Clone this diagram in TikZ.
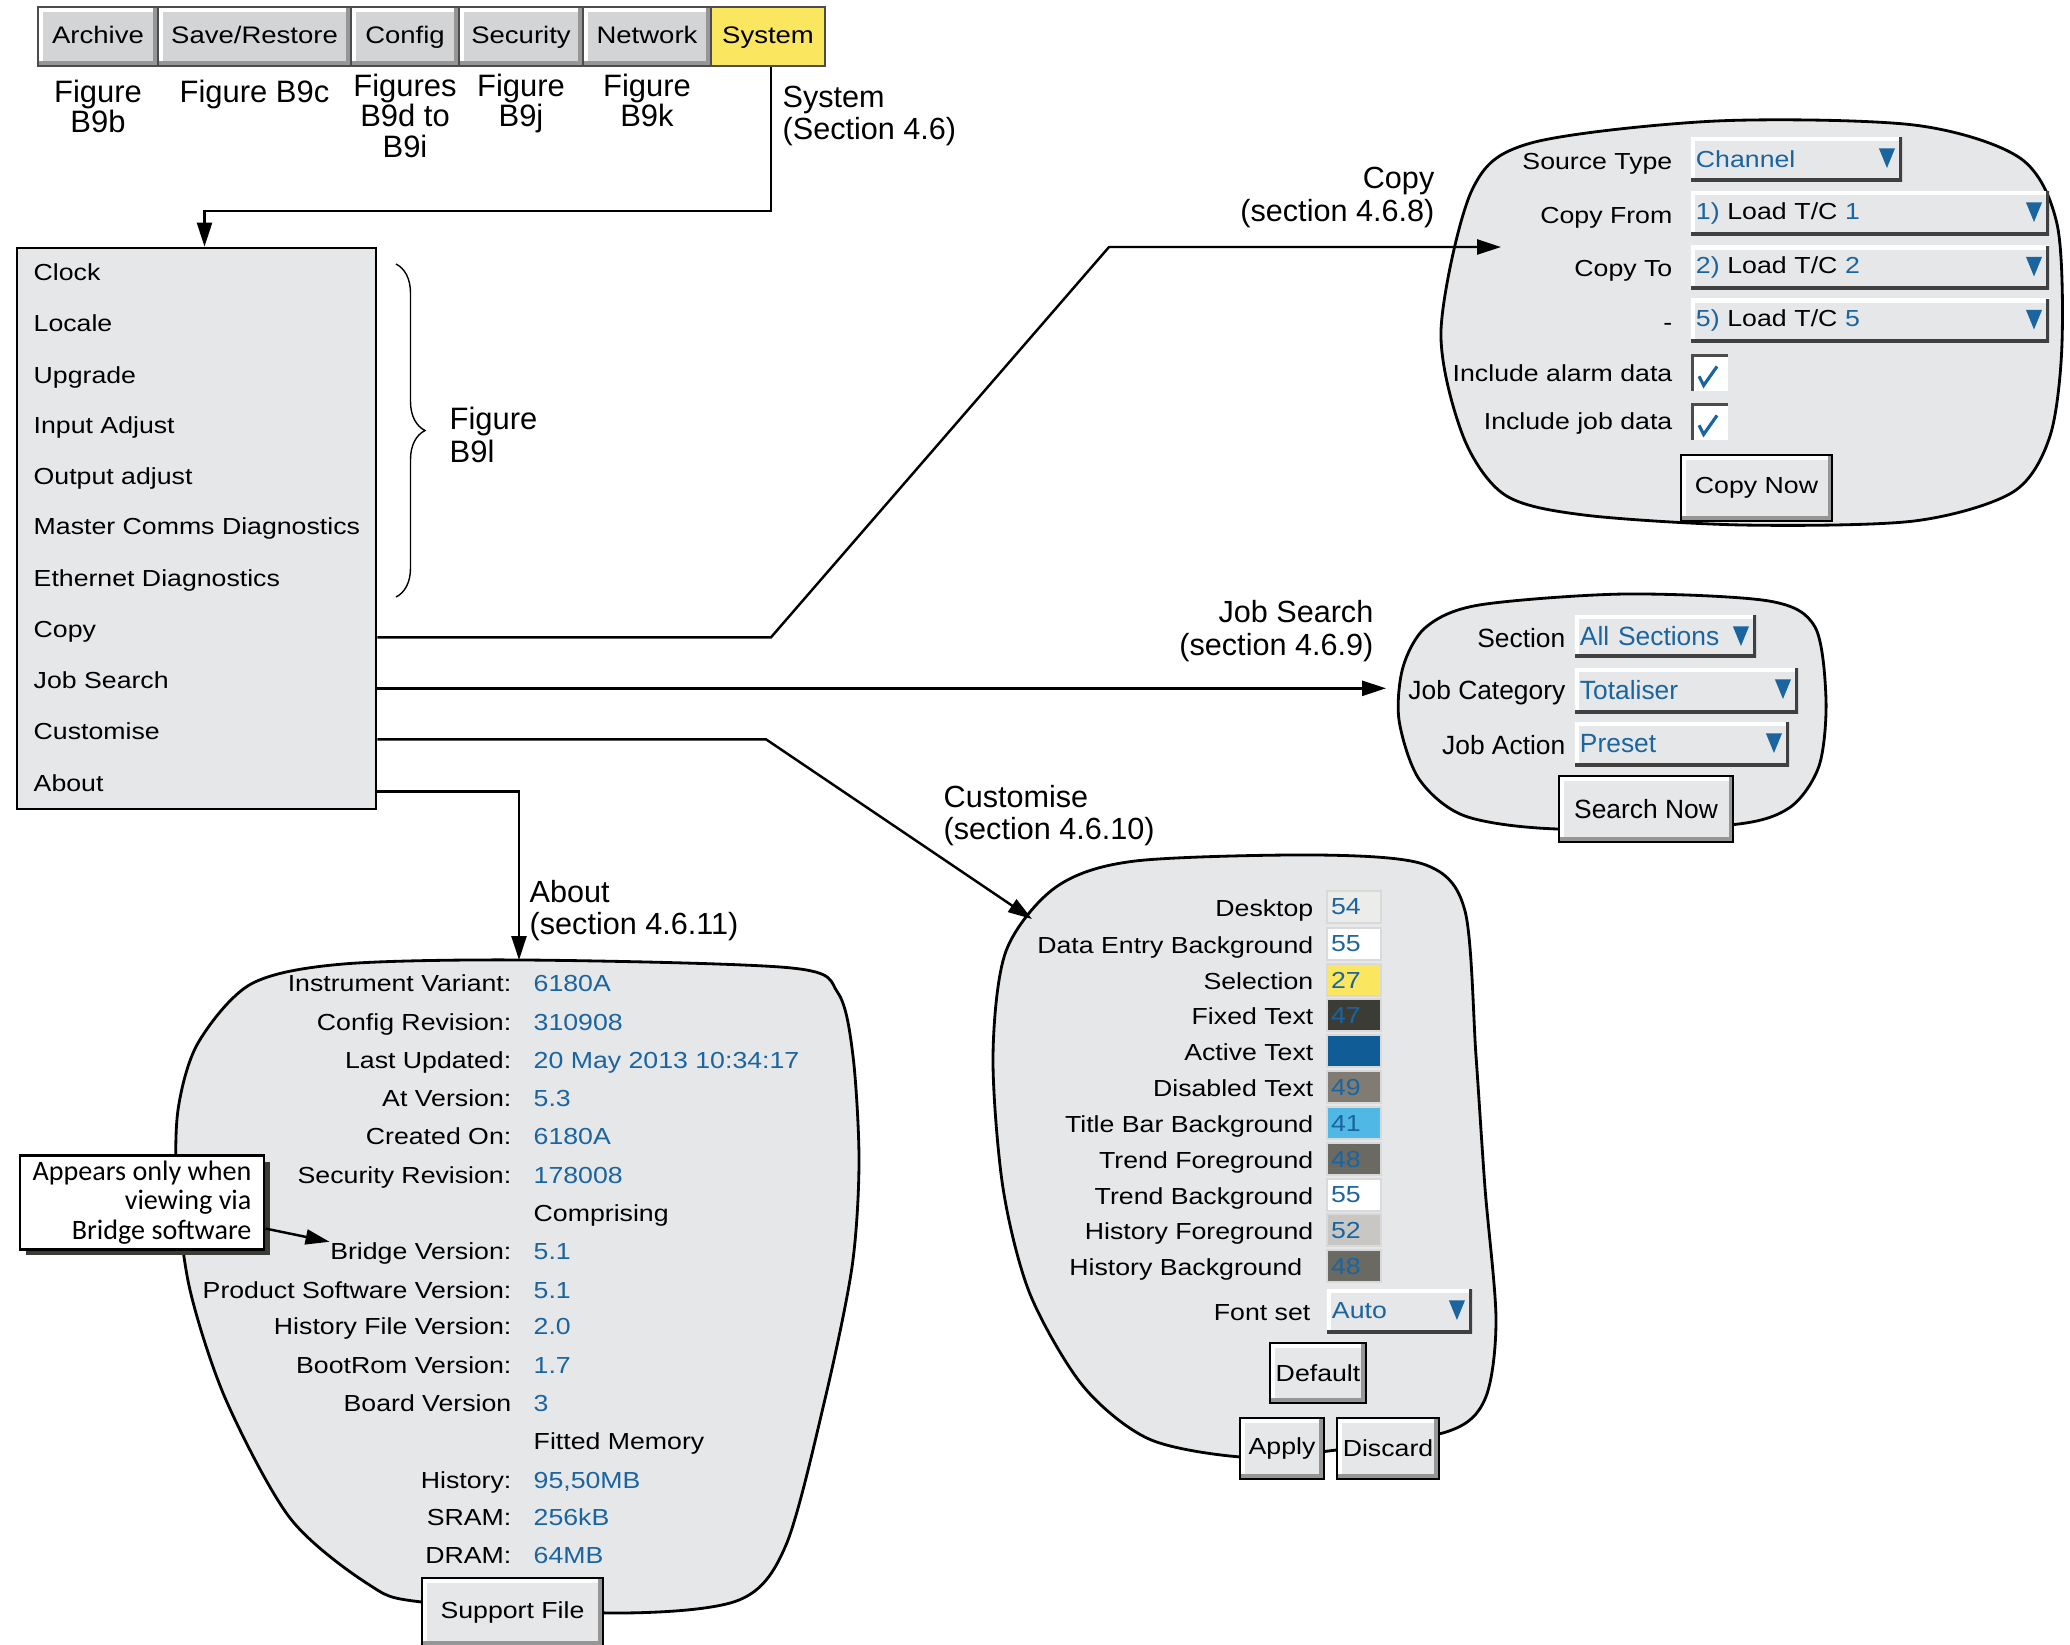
\documentclass[tikz,border=0pt]{standalone}
\usepackage{fontspec}
\setmainfont{Liberation Sans}
\newfontfamily\wideF[FakeStretch=1.15]{Liberation Sans}
\newfontfamily\noteF{Carlito}
\usepackage{xcolor}
\usepackage{tikz}
\usetikzlibrary{arrows.meta, positioning, shadows, decorations.pathreplacing}

\definecolor{panelgray}{RGB}{230,231,232}
\definecolor{tabgray}{RGB}{211,212,214}
\definecolor{bevelgray}{RGB}{150,150,150}
\definecolor{sysyellow}{RGB}{251,231,95}
\definecolor{valblue}{RGB}{26,100,160}
\definecolor{shadowdark}{RGB}{60,60,55}
\definecolor{swdesk}{RGB}{236,236,234}
\definecolor{swfixed}{RGB}{60,60,55}
\definecolor{swactive}{RGB}{16,92,150}
\definecolor{swdisabled}{RGB}{128,124,116}
\definecolor{swtitle}{RGB}{80,184,228}
\definecolor{swtrend}{RGB}{106,105,98}
\definecolor{swhist}{RGB}{200,199,195}

\begin{document}
\begin{tikzpicture}[
    x=0.01cm, y=-0.01cm,
    panel/.style={draw=black, line width=0.8pt, fill=panelgray},
    menubox/.style={rectangle, draw=black, line width=0.7pt, fill=panelgray, inner sep=0},
    bevel/.style={path picture={
        \draw[white, line width=2.6pt] (path picture bounding box.south west) -- (path picture bounding box.north west) -- (path picture bounding box.north east);
        \draw[bevelgray, line width=2.6pt] (path picture bounding box.south west) -- (path picture bounding box.south east) -- (path picture bounding box.north east);}},
    tab/.style={rectangle, draw=black!70, line width=0.5pt, fill=tabgray, bevel, minimum height=0.59cm, inner sep=0, text height=1.35ex, text depth=0.6ex, font=\wideF\fontsize{6.8}{8}\selectfont},
    systab/.style={rectangle, draw=black!70, line width=0.5pt, fill=sysyellow, minimum height=0.59cm, inner sep=0, text height=1.35ex, text depth=0.6ex, font=\wideF\fontsize{6.8}{8}\selectfont},
    figlabel/.style={align=center, inner sep=0, font=\fontsize{8.8}{8.8}\selectfont},
    seclabel/.style={align=left, inner sep=0, font=\fontsize{8.7}{9.3}\selectfont},
    menuitem/.style={anchor=mid west, inner sep=0, font=\wideF\fontsize{6.6}{8}\selectfont},
    lbl/.style={anchor=mid east, inner sep=0, font=\wideF\fontsize{6.6}{8}\selectfont},
    val/.style={anchor=mid west, inner sep=0, text=valblue, font=\wideF\fontsize{6.6}{8}\selectfont},
    jsfont/.style={font=\fontsize{7.5}{9}\selectfont},
    dropbox/.style={rectangle, fill=panelgray, minimum height=0.44cm, inner xsep=0.05cm, inner ysep=0, align=left, text=valblue, font=\wideF\fontsize{6.6}{8}\selectfont, path picture={
        \draw[white, line width=2.4pt] (path picture bounding box.south west) -- (path picture bounding box.north west) -- (path picture bounding box.north east);
        \draw[black!75, line width=1.8pt] (path picture bounding box.south west) -- (path picture bounding box.south east) -- (path picture bounding box.north east);
        \fill[valblue] ([xshift=-2pt, yshift=-3.2pt]path picture bounding box.north east) -- ++(-4.6pt,0pt) -- ++(2.3pt,-5.6pt) -- cycle;}},
    button/.style={rectangle, draw=black, line width=0.5pt, fill=panelgray, bevel, inner sep=0, font=\wideF\fontsize{6.6}{8}\selectfont},
    swatch/.style={rectangle, draw=black!15, line width=0.4pt, minimum height=0.32cm, text width=0.46cm, inner xsep=0.04cm, inner ysep=0, align=left, text=valblue, font=\wideF\fontsize{6.6}{8}\selectfont},
    checkbox/.style={rectangle, fill=white, minimum size=0.37cm, inner sep=0, path picture={
        \draw[black!70, line width=1.6pt] (path picture bounding box.south west) -- (path picture bounding box.north west) -- (path picture bounding box.north east);
        \draw[valblue, line width=0.9pt] ([xshift=2.3pt, yshift=4.2pt]path picture bounding box.south west) -- ([xshift=3.6pt, yshift=1.6pt]path picture bounding box.south west) -- ([xshift=7.4pt, yshift=7pt]path picture bounding box.south west);}},
    notebox/.style={rectangle, draw=black, line width=0.8pt, fill=white, align=right, inner xsep=0.1cm, inner ysep=0.05cm, minimum width=2.44cm, minimum height=0.93cm, font=\noteF\fontsize{8}{8.4}\selectfont, drop shadow={shadow xshift=0.06cm, shadow yshift=-0.06cm, fill=shadowdark, opacity=1}},
    arrow/.style={-{Triangle[length=0.24cm, width=0.15cm]}, line width=0.7pt},
]
\useasboundingbox (0,0) rectangle (2070,1644);

\node[tab, minimum width=1.2cm] (archive) at (98,36.5) {Archive};
\node[tab, minimum width=1.93cm] (saverestore) at (254.5,36.5) {Save/Restore};
\node[tab, minimum width=1.08cm] (config) at (405,36.5) {Config};
\node[tab, minimum width=1.24cm] (security) at (521,36.5) {Security};
\node[tab, minimum width=1.28cm] (network) at (647,36.5) {Network};
\node[systab, minimum width=1.14cm] (system) at (768,36.5) {System};

\node[figlabel, below=0.12cm of archive] (figarchive) {Figure\\B9b};
\node[figlabel, below=0.12cm of saverestore] (figsave) {Figure B9c};
\node[figlabel, below=0.06cm of config] (figconfig) {Figures\\B9d to\\B9i};
\node[figlabel, below=0.06cm of security] (figsecurity) {Figure\\B9j};
\node[figlabel, below=0.06cm of network] (fignetwork) {Figure\\B9k};
\node[seclabel, anchor=west] (syslbl) at (782,116) {System\\(Section 4.6)};

\node[menubox, minimum width=3.59cm, minimum height=5.61cm] (menu) at (196.5,528.5) {};
\node[menuitem] (clock) at (33,271) {Clock};
\node[menuitem] (locale) at (33,322) {Locale};
\node[menuitem] (upgrade) at (33,374) {Upgrade};
\node[menuitem] (inputadj) at (33,424) {Input Adjust};
\node[menuitem] (outputadj) at (33,475) {Output adjust};
\node[menuitem] (mastercomms) at (33,525) {Master Comms Diagnostics};
\node[menuitem] (ethdiag) at (33,577) {Ethernet Diagnostics};
\node[menuitem] (copy) at (33,628) {Copy};
\node[menuitem] (jobsearch) at (33,679) {Job Search};
\node[menuitem] (customise) at (33,730) {Customise};
\node[menuitem] (about) at (33,782) {About};

\draw[decorate, decoration={brace, amplitude=0.29cm}, line width=0.4pt] (396,264) -- (396,597);
\node[figlabel, anchor=west, align=left, font=\fontsize{8.8}{9.4}\selectfont] (figsystem) at (449,435) {Figure\\B9l};

\draw[panel] plot[smooth cycle] coordinates {(1472,190) (1531,143) (1716,121) (1914,125) (2020,158) (2057,224) (2062,343) (2050,436) (2013,492) (1914,521) (1743,525) (1584,515) (1505,495) (1463,436) (1441,330)};
\node[lbl] (srctypelbl) at (1673,160) {Source Type};
\node[dropbox, text width=2.01cm] (srctype) at (1796.5,159) {Channel};
\node[lbl] (copyfromlbl) at (1673,214) {Copy From};
\node[dropbox, text width=3.48cm] (copyfrom) at (1870,213) {1) {\color{black}Load T/C} 1};
\node[lbl] (copytolbl) at (1673,267) {Copy To};
\node[dropbox, text width=3.48cm] (copyto) at (1870,267.5) {2) {\color{black}Load T/C} 2};
\node[lbl] (rangelbl) at (1673,321) {-};
\node[dropbox, text width=3.48cm] (copyrange) at (1870,320.5) {5) {\color{black}Load T/C} 5};
\node[lbl] (alarmlbl) at (1673,372) {Include alarm data};
\node[checkbox] (alarmchk) at (1709.5,372.5) {};
\node[lbl] (jobdatalbl) at (1673,420) {Include job data};
\node[checkbox] (jobdatachk) at (1709.5,421.5) {};
\node[button, minimum width=1.51cm, minimum height=0.66cm] (copynow) at (1756.5,488) {Copy Now};

\draw[panel] plot[smooth cycle] coordinates {(1426,627) (1479,605) (1624,594) (1769,601) (1815,627) (1826,700) (1819,766) (1789,808) (1729,825) (1558,829) (1465,816) (1419,779) (1399,720) (1403,667)};
\node[lbl, jsfont] (sectionlbl) at (1566,638) {Section};
\node[dropbox, jsfont, text width=1.71cm, minimum height=0.42cm] (section) at (1665.5,636) {All Sections};
\node[lbl, jsfont] (jobcatlbl) at (1566,690) {Job Category};
\node[dropbox, jsfont, text width=2.13cm, minimum height=0.45cm] (jobcat) at (1686.5,690.5) {Totaliser};
\node[lbl, jsfont] (jobactlbl) at (1566,745) {Job Action};
\node[dropbox, jsfont, text width=2.04cm] (jobact) at (1682,744) {Preset};
\node[button, jsfont, minimum width=1.74cm, minimum height=0.66cm] (searchnow) at (1646,809) {Search Now};

\draw[panel] plot[smooth cycle] coordinates {(1056,887) (1135,861) (1320,855) (1426,865) (1465,911) (1476,1056) (1485,1188) (1496,1320) (1485,1399) (1446,1432) (1320,1452) (1241,1457) (1149,1439) (1083,1386) (1030,1294) (1003,1188) (993,1056) (1006,951)};
\node[lbl] (desktoplbl) at (1314,907) {Desktop};
\node[swatch, fill=swdesk] (desktop) at (1354,907) {54};
\node[lbl] (dataentrylbl) at (1314,944) {Data Entry Background};
\node[swatch, fill=white] (dataentry) at (1354,944) {55};
\node[lbl] (selectionlbl) at (1314,980) {Selection};
\node[swatch, fill=sysyellow] (selection) at (1354,980) {27};
\node[lbl] (fixedlbl) at (1314,1015) {Fixed Text};
\node[swatch, fill=swfixed] (fixedtext) at (1354,1015) {47};
\node[lbl] (activelbl) at (1314,1051) {Active Text};
\node[swatch, fill=swactive] (activetext) at (1354,1051) {};
\node[lbl] (disabledlbl) at (1314,1087) {Disabled Text};
\node[swatch, fill=swdisabled] (disabledtext) at (1354,1087) {49};
\node[lbl] (titlebarlbl) at (1314,1123) {Title Bar Background};
\node[swatch, fill=swtitle] (titlebar) at (1354,1123) {41};
\node[lbl] (trendfglbl) at (1314,1159) {Trend Foreground};
\node[swatch, fill=swtrend] (trendfg) at (1354,1159) {48};
\node[lbl] (trendbglbl) at (1314,1195) {Trend Background};
\node[swatch, fill=white] (trendbg) at (1354,1195) {55};
\node[lbl] (histfglbl) at (1314,1230) {History Foreground};
\node[swatch, fill=swhist] (histfg) at (1354,1230) {52};
\node[lbl] (histbglbl) at (1303,1266) {History Background};
\node[swatch, fill=swtrend] (histbg) at (1354,1266) {48};
\node[lbl] (fontsetlbl) at (1311,1311) {Font set};
\node[dropbox, text width=1.35cm] (fontset) at (1399.5,1311) {Auto};
\node[button, minimum width=0.96cm, minimum height=0.6cm] (default) at (1318,1373) {Default};
\node[button, minimum width=0.84cm, minimum height=0.61cm] (apply) at (1282,1448.5) {Apply};
\node[button, minimum width=1.02cm, minimum height=0.61cm] (discard) at (1388,1448.5) {Discard};

\draw[panel] plot[smooth cycle] coordinates {(198,1043) (251,984) (343,964) (528,960) (792,968) (838,993) (853,1056) (859,1162) (852,1267) (825,1399) (786,1545) (739,1600) (620,1613) (422,1602) (368,1584) (290,1518) (226,1400) (190,1290) (177,1190) (178,1110)};
\node[lbl] (variantlbl) at (512,982) {Instrument Variant:};
\node[val] (variant) at (533,982) {6180A};
\node[lbl] (configrevlbl) at (512,1021) {Config Revision:};
\node[val] (configrev) at (533,1021) {310908};
\node[lbl] (updatedlbl) at (512,1059) {Last Updated:};
\node[val] (updated) at (533,1059) {20 May 2013 10:34:17};
\node[lbl] (atversionlbl) at (512,1097) {At Version:};
\node[val] (atversion) at (533,1097) {5.3};
\node[lbl] (createdlbl) at (512,1135) {Created On:};
\node[val] (created) at (533,1135) {6180A};
\node[lbl] (securityrevlbl) at (512,1174) {Security Revision:};
\node[val] (securityrev) at (533,1174) {178008};
\node[menuitem] (comprising) at (533,1212) {Comprising};
\node[lbl] (bridgelbl) at (512,1250) {Bridge Version:};
\node[val] (bridge) at (533,1250) {5.1};
\node[lbl] (productlbl) at (512,1289) {Product Software Version:};
\node[val] (product) at (533,1289) {5.1};
\node[lbl] (histfilelbl) at (512,1325) {History File Version:};
\node[val] (histfile) at (533,1325) {2.0};
\node[lbl] (bootromlbl) at (512,1364) {BootRom Version:};
\node[val] (bootrom) at (533,1364) {1.7};
\node[lbl] (boardlbl) at (512,1402) {Board Version};
\node[val] (board) at (533,1402) {3};
\node[menuitem] (fittedmem) at (533,1440) {Fitted Memory};
\node[lbl] (memhistlbl) at (512,1479) {History:};
\node[val] (memhist) at (533,1479) {95,50MB};
\node[lbl] (sramlbl) at (512,1516) {SRAM:};
\node[val] (sram) at (533,1516) {256kB};
\node[lbl] (dramlbl) at (512,1554) {DRAM:};
\node[val] (dram) at (533,1554) {64MB};
\node[button, minimum width=1.81cm, minimum height=0.68cm] (supportfile) at (512.5,1612) {Support File};

\node[notebox] (bridgenote) at (142,1202.5) {Appears only when\\viewing via\\Bridge software};
\draw[arrow] ([yshift=-0.26cm]bridgenote.east) -- (bridgelbl.north west);

\coordinate (sysbend) at (771,211);
\draw[arrow] (system.south -| sysbend) -- (sysbend) -| ([xshift=0.08cm]menu.north);

\coordinate (copyjog) at (771,634);
\coordinate (copybend) at (1109,247);
\coordinate (copyend) at (1501,247);
\draw[arrow] (copy.base -| menu.east) -- (copy.base -| copyjog) -- (copybend) -- (copyend);
\node[seclabel, anchor=east, align=right] (copylbl) at (1435,197.5) {Copy\\(section 4.6.8)};

\coordinate (jobend) at (1386,685);
\draw[arrow] (jobsearch.base -| menu.east) -- (jobsearch.base -| jobend);
\node[seclabel, anchor=east, align=right] (jobsearchlbl) at (1374,631) {Job Search\\(section 4.6.9)};

\coordinate (custjog) at (766,735);
\coordinate (custend) at (1032,919);
\draw[arrow] (customise.base -| menu.east) -- (customise.base -| custjog) -- (custend);
\node[seclabel, anchor=west] (customiselbl) at (943,815.5) {Customise\\(section 4.6.10)};

\coordinate (aboutend) at (519,960);
\draw[arrow] (about.base -| menu.east) -| (aboutend);
\node[seclabel, anchor=west] (aboutlbl) at (529,910.5) {About\\(section 4.6.11)};

\end{tikzpicture}
\end{document}
